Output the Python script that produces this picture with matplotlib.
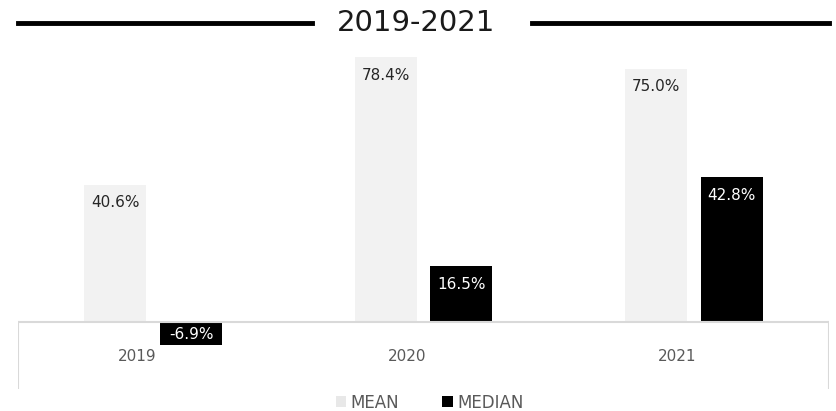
import matplotlib.pyplot as plt
from matplotlib.lines import Line2D
from matplotlib.patches import Patch
import numpy as np

years = ["2019", "2020", "2021"]
mean_vals = [40.6, 78.4, 75.0]
median_vals = [-6.9, 16.5, 42.8]

MEAN_C = "#F2F2F2"
MEDIAN_C = "#000000"
GRID_C = "#D9D9D9"
TEXT_C = "#595959"

plt.rcParams['font.family'] = ['DejaVu Sans']

fig = plt.figure(figsize=(8.36, 4.11), dpi=100)
ax = fig.add_axes([18 / 836, 22 / 411, 811 / 836, 337 / 411])

x = np.arange(len(years))
w = 0.23
off = 0.14
b1 = ax.bar(x - off, mean_vals, w, color=MEAN_C, edgecolor='none', zorder=2)
b2 = ax.bar(x + off, median_vals, w, color=MEDIAN_C, edgecolor='none', zorder=2)

ax.set_xlim(-0.5, 2.5)
ax.set_ylim(-20, 80)
for s in ax.spines.values():
    s.set_visible(False)
ax.set_xticks([])
ax.set_yticks([])

# category axis at zero, plus edge tick lines
ax.axhline(0, color=GRID_C, lw=1.5, zorder=3)
ax.axvline(-0.5, ymin=0, ymax=0.2, color=GRID_C, lw=1.5)
ax.axvline(2.5, ymin=0, ymax=0.2, color=GRID_C, lw=1.5)

for i, y in enumerate(years):
    ax.text(i - 0.06, -10.5, y, ha='center', va='center', fontsize=11, color=TEXT_C)

# data labels
for i, v in enumerate(mean_vals):
    ax.annotate(f"{v:.1f}%", (i - off, v), xytext=(0, -13), textcoords='offset points',
                ha='center', va='center', fontsize=11, color='#262626', zorder=4)
for i, v in enumerate(median_vals):
    if v > 0:
        ax.annotate(f"{v:.1f}%", (i + off, v), xytext=(0, -13), textcoords='offset points',
                    ha='center', va='center', fontsize=11, color='white', zorder=4)
    else:
        ax.text(i + off, v / 2 - 0.3, f"{v:.1f}%", ha='center', va='center',
                fontsize=11, color='white', zorder=4)

# title with side rules
fig.text(0.498, 0.943, "2019-2021", ha='center', va='center', fontsize=21, color='#1A1A1A')
fig.add_artist(Line2D([18 / 836, 312 / 836], [0.944, 0.944], color='black', lw=3.5,
                      transform=fig.transFigure))
fig.add_artist(Line2D([532 / 836, 829 / 836], [0.944, 0.944], color='black', lw=3.5,
                      transform=fig.transFigure))

handles = [Patch(facecolor='#E8E8E8', edgecolor='none', label='MEAN'),
           Patch(facecolor=MEDIAN_C, edgecolor='none', label='MEDIAN')]
leg = fig.legend(handles=handles, loc='center', bbox_to_anchor=(0.514, 0.02), ncol=2,
                 frameon=False, fontsize=12, handlelength=0.65, handleheight=0.65,
                 handletextpad=0.25, columnspacing=2.6)
for t in leg.get_texts():
    t.set_color(TEXT_C)

fig.savefig("out.png", dpi=100, facecolor='white')
